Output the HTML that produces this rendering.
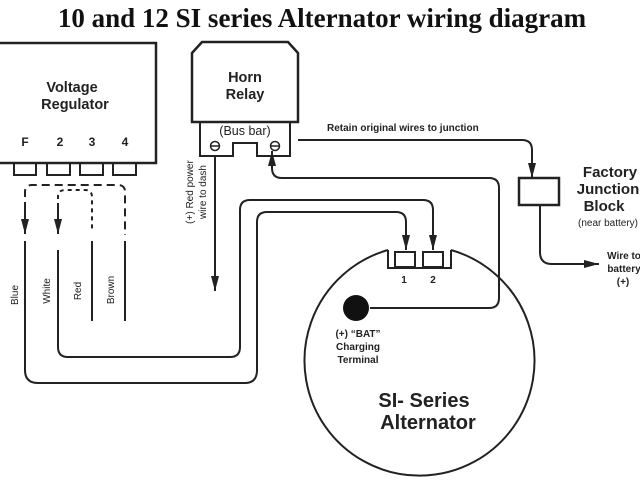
<!DOCTYPE html>
<html><head><style>
body{margin:0;background:#fff;}
svg{display:block;}
.s{font-family:"Liberation Sans",sans-serif;font-weight:bold;fill:#222;}
</style></head><body>
<svg width="640" height="480" viewBox="0 0 640 480" xmlns="http://www.w3.org/2000/svg">
<defs>
<marker id="b" viewBox="0 0 15 8" markerWidth="15" markerHeight="8" refX="15" refY="4" orient="auto" markerUnits="userSpaceOnUse"><path d="M0,0 L15,4 L0,8 z" fill="#222"/></marker></defs>
<text x="322" y="27" text-anchor="middle" font-family="Liberation Serif,serif" font-weight="bold" font-size="27" fill="#111">10 and 12 SI series Alternator wiring diagram</text>
<g fill="none" stroke="#222" stroke-width="2">
<rect x="-5" y="43" width="161" height="120" stroke-width="2.5"/>
<rect x="14" y="163" width="22" height="12"/><rect x="47" y="163" width="23" height="12"/><rect x="80" y="163" width="23" height="12"/><rect x="113" y="163" width="23" height="12"/>
<path d="M25,210 V192 Q25,185 32,185 H118 Q125,185 125,192 V235" stroke-dasharray="8,5"/>
<path d="M58,215 V197 Q58,190 65,190 H85 Q92,190 92,197 V230" stroke-dasharray="4,4"/>
<path d="M25,205 V234" marker-end="url(#b)"/>
<path d="M58,205 V234" marker-end="url(#b)"/>
<path d="M92,241 V321 M125,241 V321"/>
<path d="M25,241 V370 Q25,383 38,383 H245 Q257,383 257,370 V222 Q257,212 267,212 H396 Q406,212 406,222 V250" marker-end="url(#b)"/>
<path d="M58,250 V347 Q58,357 68,357 H230 Q240,357 240,347 V210 Q240,200 250,200 H423 Q433,200 433,210 V250" marker-end="url(#b)"/>
<path d="M192,122 V53 L202,42 H288 L298,53 V122 Z" stroke-width="2.5"/>
<path d="M200,122 V156 H233 V143 H257 V156 H290 V122"/>
<circle cx="215" cy="146" r="4.5" stroke-width="1.5"/><path d="M211,146 H219" stroke-width="1.5"/>
<circle cx="275" cy="146" r="4.5" stroke-width="1.5"/><path d="M271,146 H279" stroke-width="1.5"/>
<path d="M215,156 V291" marker-end="url(#b)"/>
<path d="M298,140 H522 Q532,140 532,150 V178" marker-end="url(#b)"/>
<path d="M370,308 H489 Q499,308 499,298 V188 Q499,178 489,178 H282 Q272,178 272,168 V151" marker-end="url(#b)"/>
<rect x="519" y="178" width="40" height="27" stroke-width="2.5"/>
<path d="M540,205 V252 Q540,264 552,264 H599" marker-end="url(#b)"/>
<path d="M388,250 A115,115 0 1,0 451,250" />
<path d="M388,250 V268 H451 V250"/>
<rect x="395" y="252" width="20" height="15"/><rect x="423" y="252" width="20" height="15"/>
</g>
<circle cx="356" cy="308" r="13" fill="#111"/>
<text class="s" font-size="14.5" text-anchor="middle" x="72" y="92">Voltage</text>
<text class="s" font-size="14.5" text-anchor="middle" x="75" y="109">Regulator</text>
<g class="s" font-size="12" text-anchor="middle"><text x="25" y="146">F</text><text x="60" y="146">2</text><text x="92" y="146">3</text><text x="125" y="146">4</text></g>
<text class="s" font-size="14.5" text-anchor="middle" x="245" y="82">Horn</text>
<text class="s" font-size="14.5" text-anchor="middle" x="245" y="99">Relay</text>
<text x="245" y="135" text-anchor="middle" font-family="Liberation Sans,sans-serif" font-size="12.5" fill="#222">(Bus bar)</text>
<g font-family="Liberation Sans,sans-serif" font-size="10" fill="#222" text-anchor="middle">
<text transform="translate(193,192) rotate(-90)">(+) Red power</text>
<text transform="translate(206,192) rotate(-90)">wire to dash</text>
<text transform="translate(18,295) rotate(-90)">Blue</text>
<text transform="translate(50,291) rotate(-90)">White</text>
<text transform="translate(81,291) rotate(-90)">Red</text>
<text transform="translate(114,290) rotate(-90)">Brown</text>
</g>
<text class="s" font-size="10" x="327" y="131">Retain original wires to junction</text>
<text class="s" font-size="15" text-anchor="middle" x="610" y="177">Factory</text>
<text class="s" font-size="15" text-anchor="middle" x="608" y="194">Junction</text>
<text class="s" font-size="15" text-anchor="middle" x="604" y="211">Block</text>
<text font-family="Liberation Sans,sans-serif" font-size="10" fill="#222" text-anchor="middle" x="608" y="226">(near battery)</text>
<g class="s" font-size="10" text-anchor="middle"><text x="624" y="259">Wire to</text><text x="624" y="272">battery</text><text x="623" y="285">(+)</text>
<text x="358" y="337">(+) “BAT”</text><text x="358" y="350">Charging</text><text x="358" y="363">Terminal</text>
<text x="404" y="283">1</text><text x="433" y="283">2</text></g>
<text class="s" font-size="20" text-anchor="middle" x="424" y="407">SI- Series</text>
<text class="s" font-size="20" text-anchor="middle" x="428" y="429">Alternator</text>
</svg>
</body></html>
